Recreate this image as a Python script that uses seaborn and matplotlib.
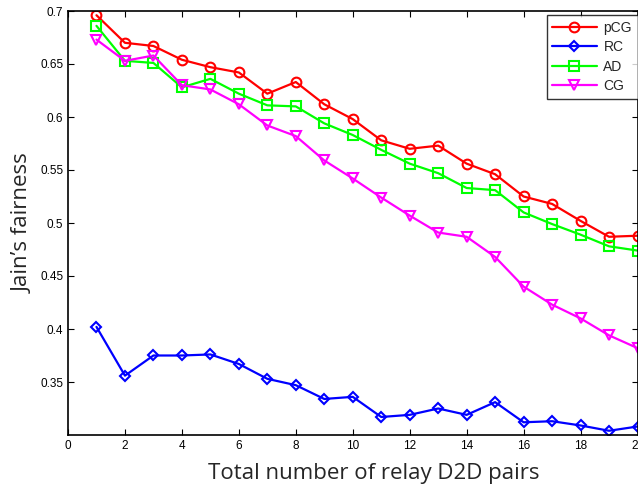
import numpy as np
import pandas as pd
import matplotlib
matplotlib.use('Agg')
import matplotlib.pyplot as plt
import seaborn as sns

# number of relay D2D pairs
pairs = list(range(1, 21))

# Jain's fairness
pcg = [0.696, 0.670, 0.667, 0.654, 0.647, 0.642, 0.622, 0.633, 0.612, 0.598,
       0.578, 0.570, 0.573, 0.556, 0.546, 0.525, 0.518, 0.502, 0.487, 0.488]
rc = [0.402, 0.356, 0.375, 0.375, 0.376, 0.367, 0.353, 0.347, 0.334, 0.336,
      0.317, 0.319, 0.325, 0.319, 0.331, 0.312, 0.313, 0.309, 0.304, 0.308]
ad = [0.686, 0.653, 0.651, 0.628, 0.636, 0.622, 0.611, 0.610, 0.594, 0.583,
      0.569, 0.556, 0.547, 0.533, 0.531, 0.510, 0.499, 0.489, 0.478, 0.474]
cg = [0.673, 0.653, 0.658, 0.630, 0.626, 0.612, 0.592, 0.582, 0.559, 0.542,
      0.524, 0.507, 0.491, 0.487, 0.468, 0.440, 0.423, 0.410, 0.394, 0.382]

series = [('pCG', pcg, 'red', 'o'),
          ('RC', rc, 'blue', 'D'),
          ('AD', ad, 'lime', 's'),
          ('CG', cg, 'magenta', 'v')]

sns.set_style('ticks')
plt.rcParams['font.family'] = ['Liberation Sans', 'DejaVu Sans']

fig = plt.figure(figsize=(6.38, 4.86), dpi=100)
ax = fig.add_axes([68/638, 1 - 435/486, 1 - 68/638 - 0.5/638, (435 - 11)/486])

for name, vals, col, mk in series:
    df = pd.DataFrame({'x': pairs, 'y': vals})
    sns.lineplot(data=df, x='x', y='y', ax=ax, color=col, marker=mk,
                 markersize=7 if mk != 'D' else 5.5, markerfacecolor='none',
                 markeredgecolor=col, markeredgewidth=1.5, linewidth=1.6,
                 label=name)

ax.set_xlim(0, 20)
ax.set_ylim(0.30, 0.70)
ax.set_xticks(range(0, 21, 2))
ax.set_yticks([0.35, 0.4, 0.45, 0.5, 0.55, 0.6, 0.65, 0.7])
ax.set_yticklabels(['0.35', '0.4', '0.45', '0.5', '0.55', '0.6', '0.65', '0.7'])
ax.tick_params(direction='in', top=True, right=True, length=4.5, width=0.8,
               labelsize=8.5, colors='black')
for sp in ax.spines.values():
    sp.set_linewidth(1.2)
    sp.set_color('black')

ax.set_xlabel('Total number of relay D2D pairs', fontsize=16, family=['Open Sans', 'DejaVu Sans'])
ax.set_ylabel('Jain\u2019s fairness', fontsize=16, family=['Open Sans', 'DejaVu Sans'])
ax.xaxis.set_label_coords(0.537, -0.066)
ax.yaxis.set_label_coords(-0.06, 0.5)

leg = ax.legend(loc='upper right', bbox_to_anchor=(1.0, 1 - 4/424), fontsize=10,
                frameon=True, fancybox=False, edgecolor='black', borderaxespad=0,
                handlelength=3.2, labelspacing=0.4, borderpad=0.4, handletextpad=0.5)
leg.get_frame().set_linewidth(1.0)

fig.savefig('out.png', dpi=100)
